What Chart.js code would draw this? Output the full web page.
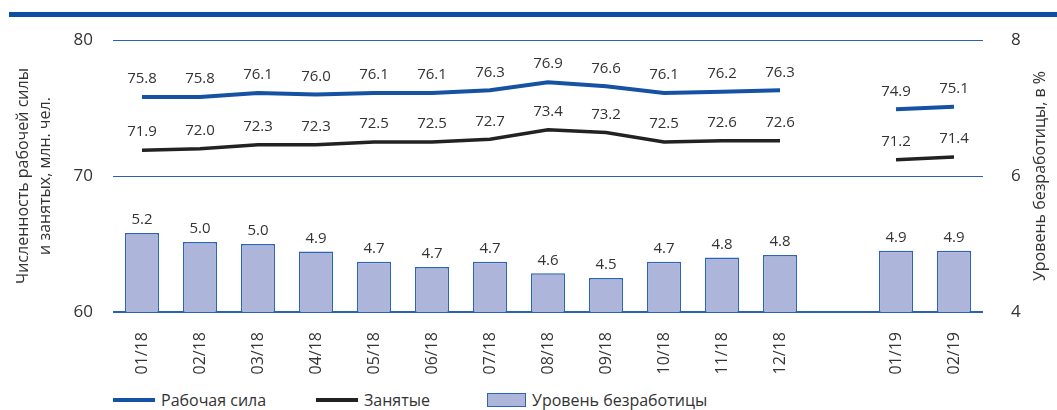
<!DOCTYPE html>
<html>
<head>
<meta charset="utf-8">
<script src="https://cdn.jsdelivr.net/npm/chart.js@4"></script>
<style>
  body { margin: 0; width: 1057px; height: 410px; background: #fff; font-family: "Open Sans", sans-serif; overflow: hidden; position: relative; }
  #topbar { position: absolute; left: 9px; right: 0; top: 12px; height: 5px; background: #0b4ea2; }
  #wrap { position: absolute; left: 0; top: 0; width: 1057px; height: 385px; }
  #legend { position: absolute; top: 389px; left: 113px; font-size: 16px; color: #333; }
  .item { position: absolute; top: 0; white-space: nowrap; display: flex; align-items: center; height: 22px; }
  .sw { display: inline-block; margin-right: 6px; }
</style>
</head>
<body>
<div id="topbar"></div>
<div id="wrap"><canvas id="myChart"></canvas></div>
<div id="legend">
  <div class="item" style="left:0"><span class="sw" style="width:42px;height:4px;background:#1552a3"></span>Рабочая сила</div>
  <div class="item" style="left:203px"><span class="sw" style="width:42px;height:4px;background:#222"></span>Занятые</div>
  <div class="item" style="left:374px"><span class="sw" style="width:37px;height:12px;background:#aeb5db;border:1px solid #2d64b4"></span>Уровень безработицы</div>
</div>
<script>
// months, gap between 12/18 and 01/19
const months = ['01/18','02/18','03/18','04/18','05/18','06/18','07/18','08/18','09/18','10/18','11/18','12/18','','01/19','02/19'];
const labourForce = [75.8,75.8,76.1,76.0,76.1,76.1,76.3,76.9,76.6,76.1,76.2,76.3,null,74.9,75.1];
const employed = [71.9,72.0,72.3,72.3,72.5,72.5,72.7,73.4,73.2,72.5,72.6,72.6,null,71.2,71.4];
const unemployment = [5.16,5.03,5.0,4.89,4.74,4.66,4.74,4.57,4.5,4.74,4.8,4.84,null,4.9,4.9];

const leftTicks = [60, 70, 80];
const rightTicks = [4, 6, 8];

const leftTitle = ['Численность рабочей силы', 'и занятых, млн. чел.'];
const rightTitle = 'Уровень безработицы, в %';

// draws values above the points / bars
const valueLabels = {
    id: 'valueLabels',
    afterDatasetsDraw(chart) {
        const ctx = chart.ctx;
        ctx.save();
        ctx.font = '15px "Open Sans"';
        ctx.fillStyle = '#333';
        ctx.textAlign = 'center';
        ctx.textBaseline = 'middle';
        chart.data.datasets.forEach((ds, i) => {
            const meta = chart.getDatasetMeta(i);
            meta.data.forEach((el, j) => {
                const v = ds.data[j];
                if (v == null) return;
                const off = ds.type === 'bar' ? 13 : 18;
                ctx.fillText(v.toFixed(1), el.x, el.y - off);
            });
        });
        ctx.restore();
    }
};

// both axis titles read bottom to top
const axisTitles = {
    id: 'axisTitles',
    afterDraw(chart) {
        const ctx = chart.ctx;
        const cy = (chart.chartArea.top + chart.chartArea.bottom) / 2;
        ctx.save();
        ctx.font = '16px "Open Sans"';
        ctx.fillStyle = '#333';
        ctx.textAlign = 'center';
        ctx.textBaseline = 'middle';
        const put = (txt, x) => {
            ctx.save();
            ctx.translate(x, cy);
            ctx.rotate(-Math.PI / 2);
            ctx.fillText(txt, 0, 0);
            ctx.restore();
        };
        put(leftTitle[0], 23);
        put(leftTitle[1], 45);
        put(rightTitle, 1040);
        ctx.restore();
    }
};

const ctx = document.getElementById('myChart').getContext('2d');
new Chart(ctx, {
    data: {
        labels: months,
        datasets: [
            {
                type: 'line',
                label: 'Рабочая сила',
                data: labourForce,
                borderColor: '#1552a3',
                borderWidth: 4,
                pointRadius: 0,
                tension: 0,
                spanGaps: false,
                yAxisID: 'y',
                order: 1
            },
            {
                type: 'line',
                label: 'Занятые',
                data: employed,
                borderColor: '#222222',
                borderWidth: 3.5,
                pointRadius: 0,
                tension: 0,
                spanGaps: false,
                yAxisID: 'y',
                order: 2
            },
            {
                type: 'bar',
                label: 'Уровень безработицы',
                data: unemployment,
                backgroundColor: '#aeb5db',
                borderColor: '#2d64b4',
                borderWidth: 1.5,
                barPercentage: 0.59,
                categoryPercentage: 1,
                yAxisID: 'y1',
                order: 3
            }
        ]
    },
    options: {
        responsive: true,
        maintainAspectRatio: false,
        animation: false,
        layout: { padding: { top: 40, left: 0, right: 0, bottom: 0 } },
        plugins: {
            legend: { display: false },
            tooltip: { enabled: false }
        },
        scales: {
            x: {
                grid: { display: false },
                border: { display: false },
                ticks: {
                    minRotation: 90,
                    maxRotation: 90,
                    autoSkip: false,
                    padding: 12,
                    color: '#333',
                    font: { family: 'Open Sans', size: 16 }
                },
                afterFit: s => { s.height = 73; }
            },
            y: {
                position: 'left',
                min: 60,
                max: 80,
                afterBuildTicks: s => { s.ticks = leftTicks.map(v => ({ value: v })); },
                grid: {
                    color: '#2b62b3',
                    lineWidth: c => c.tick.value === 60 ? 2 : 1,
                    drawTicks: false
                },
                border: { display: false },
                ticks: { padding: 20, color: '#333', font: { family: 'Open Sans', size: 17 } },
                afterFit: s => { s.width = 113; }
            },
            y1: {
                position: 'right',
                min: 4,
                max: 8,
                afterBuildTicks: s => { s.ticks = rightTicks.map(v => ({ value: v })); },
                grid: { display: false },
                border: { display: false },
                ticks: { padding: 20, color: '#333', font: { family: 'Open Sans', size: 17 } },
                afterFit: s => { s.width = 74; }
            }
        }
    },
    plugins: [valueLabels, axisTitles]
});
</script>
</body>
</html>
